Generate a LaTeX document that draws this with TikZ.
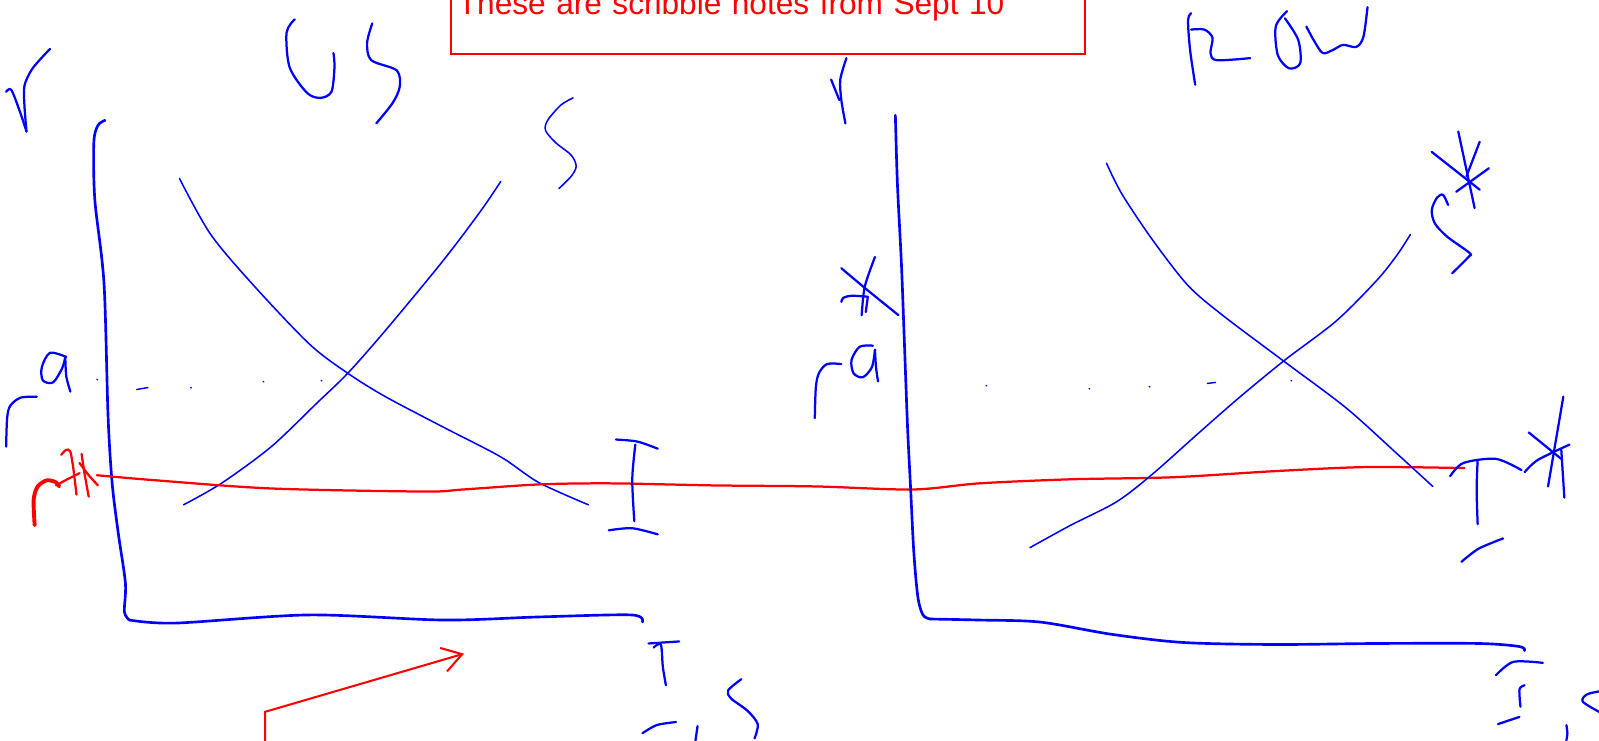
\documentclass[tikz,border=0pt]{standalone}
\usepackage{fontspec}
\setmainfont{Liberation Sans}
\usetikzlibrary{arrows.meta}
\definecolor{ink}{HTML}{0000FF}
\definecolor{redink}{HTML}{FF0000}
\tikzset{
  stroke/.style={draw=ink,line width=2.2pt,line cap=round,line join=round},
  curve/.style={stroke,line width=1.5pt},
  axis/.style={stroke,line width=2.6pt},
  speck/.style={stroke,line width=1.4pt},
  rate/.style={draw=redink,line width=2.2pt,line cap=round,line join=round},
  ratemark/.style={rate,line width=3.8pt},
  note/.style={draw=redink,line width=2pt,text=redink,font=\fontsize{31}{37}\selectfont,align=left,text width=608pt,inner xsep=7pt,inner ysep=0pt,text depth=39pt,anchor=south west},
  callout/.style={draw=redink,line width=2pt,-{Straight Barb[length=19pt,width=24pt]}}
}
\begin{document}
\begin{tikzpicture}[x=1pt,y=-1pt]
\useasboundingbox (0,0) rectangle (1568,726);
\clip (0,0) rectangle (1568,726);

% note box, cut by the top edge
\node[note] (memo) at (441,54) {These are scribble notes from Sept 10};

% US market
\draw[stroke] plot[smooth] coordinates {(6,90) (11,88) (19,108) (26,129)};
\draw[stroke] plot[smooth] coordinates {(26,129) (24,104) (24,84) (32,67) (49,48)};
\draw[stroke] plot[smooth] coordinates {(289,19) (281,32) (284,66) (301,91) (314,96) (325,90) (328,66) (327,52)};
\draw[stroke] plot[smooth] coordinates {(365,23) (360,42) (364,59) (389,69) (392,85) (385,101) (369,121)};
\draw[axis] plot[smooth] coordinates {(103,118) (96,123) (92,140) (93,196) (102,278) (106,409) (110,474) (116,523) (123,572) (122,600) (127,608)};
\draw[axis] plot[smooth] coordinates {(127,608) (172,611) (303,603) (435,608) (528,605) (619,603) (630,610)};
\draw[curve] plot[smooth] coordinates {(176,175) (206,229) (247,278) (303,337) (341,366) (378,389) (435,419) (491,448) (528,473) (577,495)};
\draw[curve] plot[smooth] coordinates {(180,495) (217,474) (266,438) (311,395) (341,366) (378,324) (435,255) (472,206) (491,178)};
\draw[curve] plot[smooth] coordinates {(562,96) (550,103) (537,118) (535,128) (545,140) (560,152) (565,163) (560,173) (548,185)};
% autarky rate, dotted by hand
\foreach \x/\y in {95/372, 187/380, 258/374, 315/373}
  \draw[speck] (\x,\y) -- ++(0.6,0.4);
\draw[speck] (134,382) -- (145,380);
\draw[stroke] plot[smooth] coordinates {(6,438) (7,410) (10,398) (20,390) (36,389)};
\draw[stroke] plot[smooth] coordinates {(65,350) (49,346) (41,360) (42,373) (52,375) (61,361) (64,350)};
\draw[stroke] plot[smooth] coordinates {(64,350) (65,369) (69,384)};
% world rate
\draw[ratemark] plot[smooth] coordinates {(34,515) (33,490) (37,477) (46,471) (55,473) (58,477)};
\draw[rate] plot[smooth] coordinates {(55,476) (66,470) (78,464)};
\draw[rate] plot[smooth] coordinates {(60,446) (65,441) (69,443) (72,460) (75,485)};
\draw[rate] plot[smooth] coordinates {(80,445) (83,465) (87,487)};
\draw[rate] plot[smooth] coordinates {(78,454) (87,466) (96,476)};
\draw[rate] plot[smooth] coordinates {(95,466) (153,471) (266,479) (416,482) (454,480) (529,475) (600,474) (700,476) (800,477) (895,480) (960,474) (1050,470) (1150,468) (1250,462) (1340,458) (1436,459)};
\draw[stroke] plot[smooth] coordinates {(604,431) (625,433) (645,440)};
\draw[stroke] plot[smooth] coordinates {(623,436) (620,470) (622,511)};
\draw[stroke] plot[smooth] coordinates {(597,520) (620,518) (645,524)};
\draw[stroke] plot[smooth] coordinates {(636,631) (666,629)};
\draw[stroke] plot[smooth] coordinates {(641,635) (648,632) (650,654) (653,672)};
\draw[stroke] plot[smooth] coordinates {(630,719) (644,711) (663,708)};
\draw[stroke] plot[smooth] coordinates {(684,712) (682,726)};
\draw[stroke] plot[smooth] coordinates {(727,666) (714,677) (717,685) (733,697) (743,710) (740,724)};

% ROW market
\draw[stroke] plot[smooth] coordinates {(830,57) (824,78) (825,98) (829,121)};
\draw[stroke] plot[smooth] coordinates {(815,78) (823,98)};
\draw[stroke] plot[smooth] coordinates {(1168,13) (1165,20) (1167,49) (1172,83)};
\draw[stroke] plot[smooth] coordinates {(1168,29) (1181,29) (1189,37) (1187,52) (1193,59) (1226,57)};
\draw[stroke] plot[smooth] coordinates {(1262,11) (1251,26) (1253,54) (1264,67) (1275,62) (1273,39) (1260,18)};
\draw[stroke] plot[smooth] coordinates {(1281,26) (1288,39) (1297,52) (1307,49) (1317,44) (1330,46) (1337,36) (1341,7)};
\draw[axis] plot[smooth] coordinates {(878,113) (880,180) (884,260) (887,340) (890,420) (893,480) (896,540) (900,585) (905,603) (912,607)};
\draw[axis] plot[smooth] coordinates {(912,607) (960,608) (1020,610) (1090,622) (1160,630) (1250,632) (1350,631) (1450,631) (1490,634) (1495,638)};
\draw[curve] plot[smooth] coordinates {(1085,160) (1100,190) (1130,235) (1165,280) (1200,310) (1260,355) (1320,400) (1370,445) (1405,477)};
\draw[curve] plot[smooth] coordinates {(1010,537) (1050,515) (1095,492) (1130,465) (1175,425) (1215,390) (1260,353) (1310,315) (1350,275) (1370,250) (1383,230)};
\draw[stroke] plot[smooth] coordinates {(1420,201) (1415,191) (1409,194) (1404,206) (1407,219) (1419,232) (1441,248) (1440,252) (1424,268)};
\draw[stroke] (1430,129) -- (1446,204);
\draw[stroke] (1404,149) -- (1451,186);
\draw[stroke] (1428,188) -- (1460,165);
\draw[stroke] (1438,173) -- (1451,139);
\draw[stroke] plot[smooth] coordinates {(858,252) (848,281) (845,309)};
\draw[stroke] (851,291) -- (849,306);
\draw[stroke] plot[smooth] coordinates {(825,263) (850,284) (881,309)};
\draw[stroke] plot[smooth] coordinates {(825,296) (827,292) (835,290) (851,291)};
\draw[stroke] plot[smooth] coordinates {(799,410) (800,380) (803,366) (811,357) (825,357)};
\draw[stroke] plot[smooth] coordinates {(856,339) (843,340) (835,353) (837,366) (846,370) (855,360) (858,343)};
\draw[stroke] plot[smooth] coordinates {(858,343) (859,360) (861,374)};
\foreach \x/\y in {967/378, 1068/381, 1127/379, 1266/373}
  \draw[speck] (\x,\y) -- ++(0.6,0.4);
\draw[speck] (1184,376) -- (1192,375);
\draw[stroke] plot[smooth] coordinates {(1422,467) (1435,454) (1467,450) (1492,461)};
\draw[stroke] plot[smooth] coordinates {(1449,451) (1448,480) (1449,514)};
\draw[stroke] plot[smooth] coordinates {(1433,551) (1450,538) (1474,528)};
\draw[stroke] (1533,389) -- (1518,477);
\draw[stroke] (1499,424) -- (1531,450);
\draw[stroke] plot[smooth] coordinates {(1495,463) (1508,451) (1539,436)};
\draw[stroke] (1531,441) -- (1534,488);
\draw[stroke] plot[smooth] coordinates {(1467,662) (1484,649) (1513,650)};
\draw[stroke] plot[smooth] coordinates {(1495,672) (1490,676) (1491,693)};
\draw[stroke] (1469,710) -- (1490,703);
\draw[stroke] plot[smooth] coordinates {(1568,678) (1556,681) (1552,688) (1568,698)};
\draw[stroke] plot[smooth] coordinates {(1536,711) (1537,719) (1536,726)};

% callout from below the frame
\coordinate (callout) at (260,740);
\coordinate (bend) at (260,698);
\coordinate (target) at (455,641);
\draw[callout] (callout) -- (bend) -- (target);
\end{tikzpicture}
\end{document}
